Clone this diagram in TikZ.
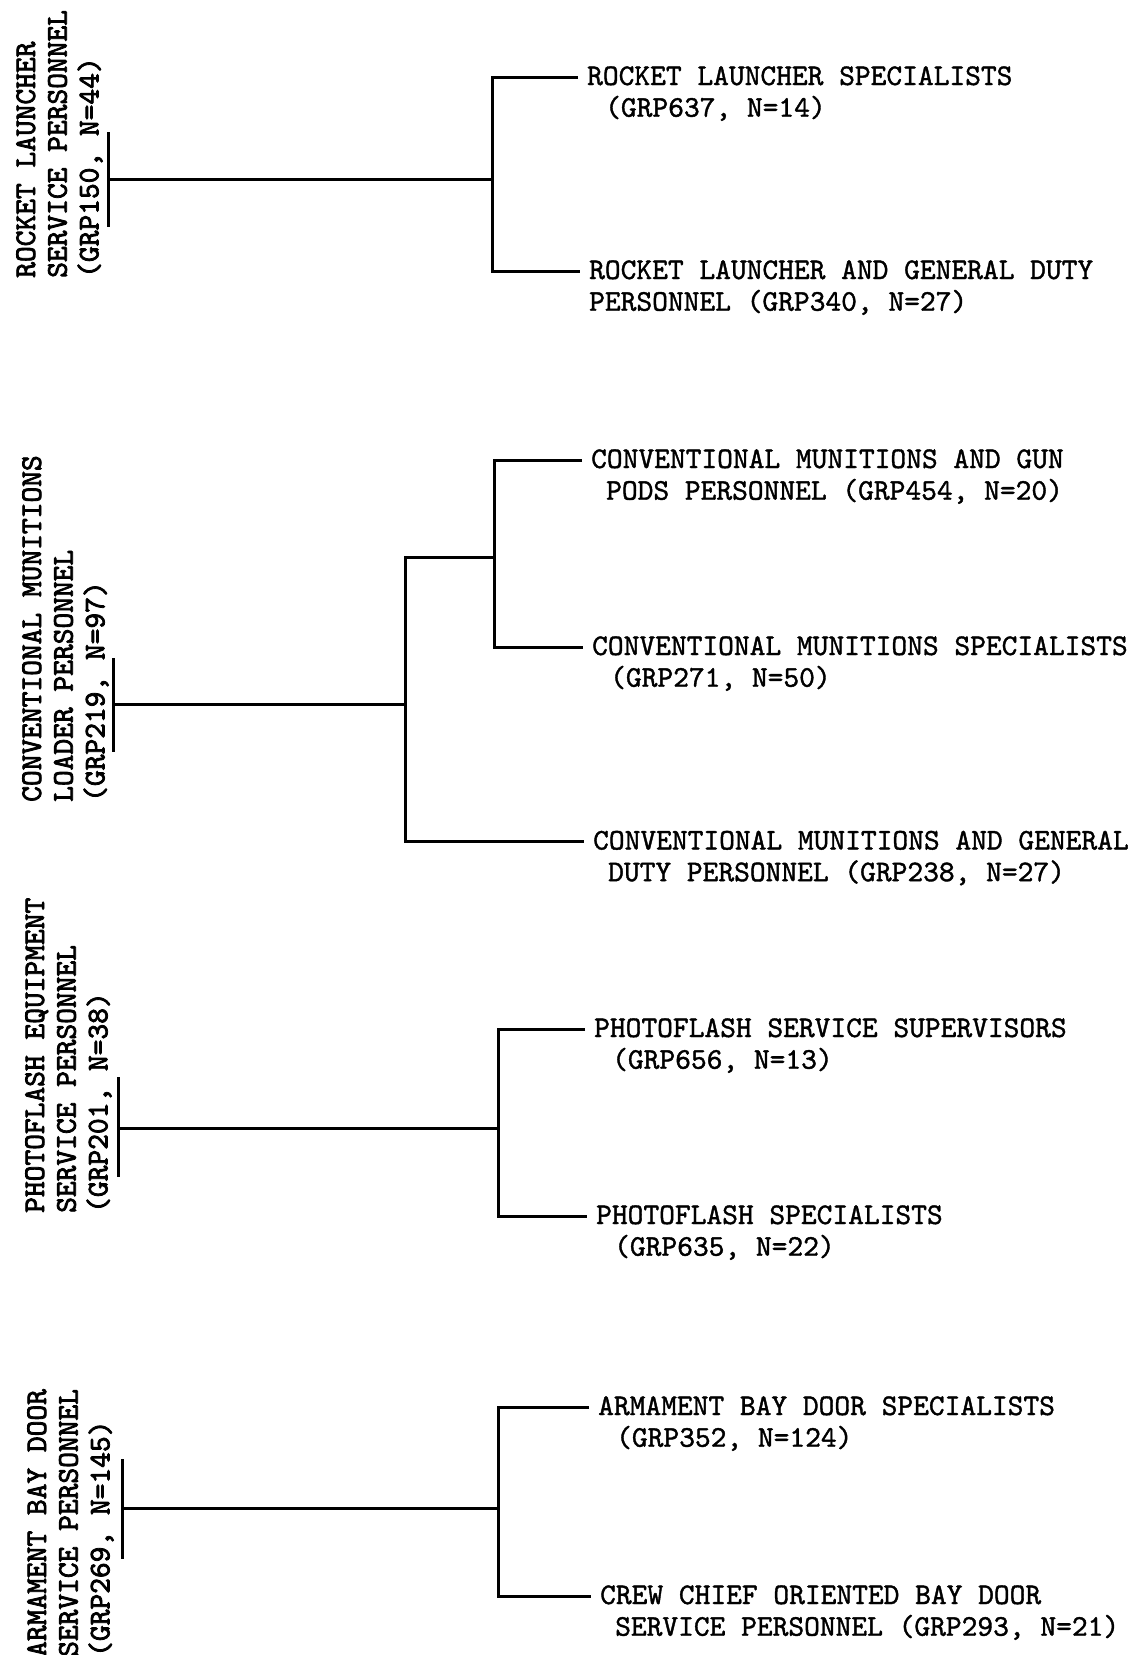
\documentclass[tikz,border=0pt]{standalone}
\usepackage{fontspec}
\newfontfamily\ttmed{lmmono10-regular.otf}[FakeBold=1.3]
\newfontfamily\ttheavy{lmmono10-regular.otf}[FakeBold=2.6]
\usetikzlibrary{calc}
\begin{document}
\begin{tikzpicture}[x=1pt,y=-1pt,
  conn/.style={line width=3pt, line cap=butt, line join=miter},
  lbl/.style={font={\ttmed\fontsize{30}{31.7}\selectfont}, inner sep=0pt, align=left, anchor=base west},
  rot/.style={lbl, rotate=90, font={\ttheavy\fontsize{30}{31.7}\selectfont}}]
\useasboundingbox (0,0) rectangle (1136,1655);

% ---------- group 1 ----------
\node[rot] (r1) at (98.4,278) {ROCKET LAUNCHER\\SERVICE PERSONNEL\\(GRP150, N=44)};
\node[lbl] (t1a) at (587,116.7) {ROCKET LAUNCHER SPECIALISTS\\\hspace*{0.6em}(GRP637, N=14)};
\node[lbl] (t1b) at (589,310.7) {ROCKET LAUNCHER AND GENERAL DUTY\\PERSONNEL (GRP340, N=27)};
\coordinate (b1t) at (108,132);
\coordinate (b1b) at (108,227);
\coordinate (b1) at (108,179.5);
\coordinate (s1) at (492,179.5);
\coordinate (e1a) at ($(t1a.base west)+(-9,-39.7)$);
\coordinate (e1b) at ($(t1b.base west)+(-9,-39.7)$);
\draw[conn] (b1t) -- (b1b);
\draw[conn] (b1) -- (s1);
\draw[conn] (e1a) -| (s1) |- (e1b);

% ---------- group 2 ----------
\node[rot] (r2) at (104.4,802) {CONVENTIONAL MUNITIONS\\LOADER PERSONNEL\\(GRP219, N=97)};
\node[lbl] (t2a) at (591,499.7) {CONVENTIONAL MUNITIONS AND GUN\\\hspace*{0.5em}PODS PERSONNEL (GRP454, N=20)};
\node[lbl] (t2b) at (592,686.7) {CONVENTIONAL MUNITIONS SPECIALISTS\\\hspace*{0.6em}(GRP271, N=50)};
\node[lbl] (t2c) at (593,881.2) {CONVENTIONAL MUNITIONS AND GENERAL\\\hspace*{0.5em}DUTY PERSONNEL (GRP238, N=27)};
\coordinate (b2t) at (113,658);
\coordinate (b2b) at (113,752);
\coordinate (b2) at (113,704);
\coordinate (s2) at (405,704);
\coordinate (j2) at (494,557.5);
\coordinate (e2a) at ($(t2a.base west)+(-9,-39.7)$);
\coordinate (e2b) at ($(t2b.base west)+(-9,-39.7)$);
\coordinate (e2c) at ($(t2c.base west)+(-9,-39.7)$);
\draw[conn] (b2t) -- (b2b);
\draw[conn] (b2) -- (s2);
\draw[conn] (j2) -| (s2) |- (e2c);
\draw[conn] (e2a) -| (j2) |- (e2b);

% ---------- group 3 ----------
\node[rot] (r3) at (107.4,1213) {PHOTOFLASH EQUIPMENT\\SERVICE PERSONNEL\\(GRP201, N=38)};
\node[lbl] (t3a) at (594,1068.7) {PHOTOFLASH SERVICE SUPERVISORS\\\hspace*{0.6em}(GRP656, N=13)};
\node[lbl] (t3b) at (596,1255.7) {PHOTOFLASH SPECIALISTS\\\hspace*{0.6em}(GRP635, N=22)};
\coordinate (b3t) at (118,1077);
\coordinate (b3b) at (118,1177);
\coordinate (b3) at (118,1128.6);
\coordinate (s3) at (498,1128.6);
\coordinate (e3a) at ($(t3a.base west)+(-9,-39.7)$);
\coordinate (e3b) at ($(t3b.base west)+(-9,-39.7)$);
\draw[conn] (b3t) -- (b3b);
\draw[conn] (b3) -- (s3);
\draw[conn] (e3a) -| (s3) |- (e3b);

% ---------- group 4 ----------
\node[rot] (r4) at (109.4,1657) {ARMAMENT BAY DOOR\\SERVICE PERSONNEL\\(GRP269, N=145)};
\node[lbl] (t4a) at (598,1446.7) {ARMAMENT BAY DOOR SPECIALISTS\\\hspace*{0.6em}(GRP352, N=124)};
\node[lbl] (t4b) at (600,1635.7) {CREW CHIEF ORIENTED BAY DOOR\\\hspace*{0.5em}SERVICE PERSONNEL (GRP293, N=21)};
\coordinate (b4t) at (122.5,1459);
\coordinate (b4b) at (122.5,1559);
\coordinate (b4) at (122.5,1508);
\coordinate (s4) at (498,1508);
\coordinate (e4a) at ($(t4a.base west)+(-9,-39.7)$);
\coordinate (e4b) at ($(t4b.base west)+(-9,-39.7)$);
\draw[conn] (b4t) -- (b4b);
\draw[conn] (b4) -- (s4);
\draw[conn] (e4a) -| (s4) |- (e4b);
\end{tikzpicture}
\end{document}
